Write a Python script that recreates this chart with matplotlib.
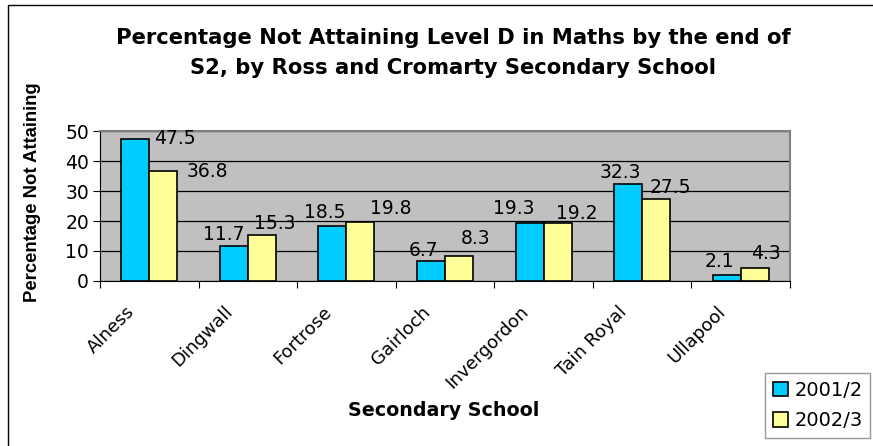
import matplotlib.pyplot as plt
import numpy as np
from matplotlib.patches import Rectangle
from matplotlib.transforms import ScaledTranslation

schools = ['Alness', 'Dingwall', 'Fortrose', 'Gairloch', 'Invergordon', 'Tain Royal', 'Ullapool']
y2001 = [47.5, 11.7, 18.5, 6.7, 19.3, 32.3, 2.1]
y2002 = [36.8, 15.3, 19.8, 8.3, 19.2, 27.5, 4.3]
yticks = [0, 10, 20, 30, 40, 50]

# hand placed label offsets in pixels (dx, dy) from bar top centre
off2001 = [(40, 0), (-10, 11), (-8, 13), (-7, 10), (-16, 15), (-8, 12), (-7, 13)]
off2002 = [(44, -1), (13, 12), (30, 13), (17, 18), (19, 10), (14, 11), (11, 15)]

fig = plt.figure(figsize=(8.73, 4.46), dpi=100)
fig.patches.append(Rectangle((8 / 873, -0.1), 1.2, 1.1 - 5 / 446,
                             transform=fig.transFigure, fill=False,
                             edgecolor='black', lw=1))
ax = fig.add_axes([100 / 873, 1 - 281 / 446, 690 / 873, 150 / 446])
ax.set_facecolor('#C0C0C0')

x = np.arange(len(schools))
w = 0.284
b1 = ax.bar(x - w / 2, y2001, w, color='#00CCFF', edgecolor='black', lw=1.2, label='2001/2', zorder=3)
b2 = ax.bar(x + w / 2, y2002, w, color='#FFFF99', edgecolor='black', lw=1.2, label='2002/3', zorder=3)

for bars, vals, offs in [(b1, y2001, off2001), (b2, y2002, off2002)]:
    for r, v, (dx, dy) in zip(bars, vals, offs):
        ax.annotate(f'{v}', (r.get_x() + r.get_width() / 2, v),
                    xytext=(dx, dy), textcoords='offset pixels',
                    ha='center', va='center', fontsize=13.5)

ax.set_xlim(-0.5, len(schools) - 0.5)
ax.set_ylim(0, 50)
ax.set_yticks(yticks)
ax.yaxis.grid(True, color='black', lw=0.9, zorder=1)
ax.tick_params(axis='y', direction='out', length=5, labelsize=13.5, pad=3)

ax.set_xticks(np.arange(len(schools) + 1) - 0.5)
ax.set_xticklabels([])
ax.set_xticks(x, minor=True)
ax.set_xticklabels(schools, minor=True, rotation=45, ha='right',
                   rotation_mode='anchor', fontsize=13)
ax.tick_params(axis='x', which='major', direction='out', length=5)
ax.tick_params(axis='x', which='minor', length=0, pad=12)
shift = ScaledTranslation(-24 / 100, -5 / 100, fig.dpi_scale_trans)
for t in ax.get_xticklabels(minor=True):
    t.set_transform(t.get_transform() + shift)

for s in ['top', 'right']:
    ax.spines[s].set_color('#808080')
    ax.spines[s].set_linewidth(1.5)
for s in ['left', 'bottom']:
    ax.spines[s].set_color('black')

fig.text(453 / 873, 1 - 38 / 446, 'Percentage Not Attaining Level D in Maths by the end of',
         ha='center', va='center', fontsize=15.2, fontweight='bold')
fig.text(453 / 873, 1 - 68 / 446, 'S2, by Ross and Cromarty Secondary School',
         ha='center', va='center', fontsize=15.2, fontweight='bold')
fig.text(33 / 873, 1 - 192 / 446, 'Percentage Not Attaining', rotation=90,
         ha='center', va='center', fontsize=13.3, fontweight='bold',
         family=['Liberation Sans', 'DejaVu Sans'])
fig.text(444 / 873, 1 - 411 / 446, 'Secondary School',
         ha='center', va='center', fontsize=13.7, fontweight='bold')

leg = fig.legend(handles=[b1, b2], loc='upper left', bbox_to_anchor=(765 / 873, 1 - 373 / 446),
                 fontsize=14, frameon=True, fancybox=False, edgecolor='#808080',
                 handlelength=0.8, handleheight=0.8, handletextpad=0.3,
                 borderpad=0.4, labelspacing=0.6, borderaxespad=0)
leg.get_frame().set_linewidth(1)

fig.savefig('out.png', dpi=100)
